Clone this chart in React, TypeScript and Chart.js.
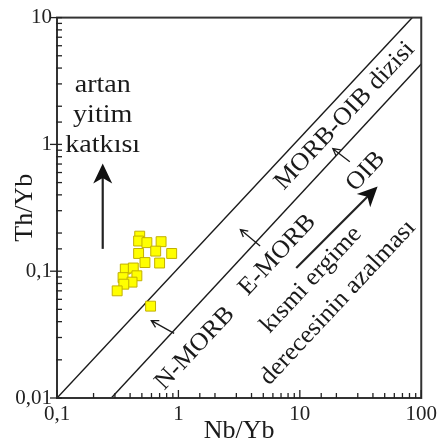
import React, { useEffect, useRef } from "react";
import { Chart, registerables } from "chart.js";
Chart.register(...registerables);

// Sample points (Nb/Yb, Th/Yb)
const nbYb = [0.48, 0.47, 0.55, 0.72, 0.65, 0.47, 0.88, 0.53, 0.7, 0.365, 0.425, 0.455, 0.35, 0.415, 0.355, 0.313, 0.59];
const thYb = [0.189, 0.173, 0.168, 0.171, 0.144, 0.138, 0.138, 0.117, 0.116, 0.104, 0.106, 0.092, 0.089, 0.082, 0.079, 0.07, 0.053];

// MORB-OIB array boundaries
const upperX = [0.1, 84.5];
const upperY = [0.01, 10];
const lowerX = [0.28, 100];
const lowerY = [0.01, 4.3];

// Tick labels
const xTickValues = [0.1, 1, 10, 100];
const xTickLabels = ["0,1", "1", "10", "100"];
const yTickValues = [0.01, 0.1, 1, 10];
const yTickLabels = ["0,01", "0,1", "1", "10"];

// Annotations in data coordinates
const smallArrows = [
  { from: [0.922, 0.0323], to: [0.598, 0.0408] },
  { from: [4.71, 0.158], to: [3.24, 0.213] },
  { from: [25.8, 0.731], to: [18.7, 0.925] },
];
const bigArrows = [
  { from: [0.238, 0.15], to: [0.238, 0.706] },
  { from: [9.34, 0.106], to: [43.7, 0.466] },
];
const flatTexts = [
  { text: "artan", at: [0.238, 2.585] },
  { text: "yitim", at: [0.238, 1.505] },
  { text: "katkısı", at: [0.238, 0.876] },
];
const slantTexts = [
  { text: "MORB-OIB dizisi", at: [23.48, 1.677] },
  { text: "OIB", at: [34.85, 0.611] },
  { text: "E-MORB", at: [6.53, 0.1343] },
  { text: "N-MORB", at: [1.369, 0.02464] },
  { text: "kısmi ergime", at: [12.38, 0.0855] },
  { text: "derecesinin azalması", at: [20.58, 0.0565] },
];

const FONT = '"Liberation Serif", "Times New Roman", serif';

function isPow10(v: number) {
  const l = Math.log10(v);
  return Math.abs(l - Math.round(l)) < 1e-6;
}
function labelFor(vals: number[], labels: string[], v: number) {
  const i = vals.findIndex((x) => Math.abs(Math.log10(x) - Math.log10(v)) < 1e-6);
  return i >= 0 ? labels[i] : "";
}

function drawText(ctx: CanvasRenderingContext2D, text: string, x: number, y: number, angle: number, size: number, baseline: CanvasTextBaseline, sx: number) {
  ctx.save();
  ctx.translate(x, y);
  ctx.rotate(angle);
  ctx.scale(sx, 1);
  ctx.font = `${size}px ${FONT}`;
  ctx.fillStyle = "#1a1a1a";
  ctx.textAlign = "center";
  ctx.textBaseline = baseline;
  ctx.fillText(text, 0, 0);
  ctx.restore();
}

function drawBigHead(ctx: CanvasRenderingContext2D, x1: number, y1: number, x2: number, y2: number, L: number, W: number) {
  const a = Math.atan2(y2 - y1, x2 - x1);
  const dx = Math.cos(a), dy = Math.sin(a);
  const px = -dy, py = dx;
  ctx.beginPath();
  ctx.moveTo(x2, y2);
  ctx.lineTo(x2 - L * dx + (W / 2) * px, y2 - L * dy + (W / 2) * py);
  ctx.lineTo(x2 - 0.72 * L * dx, y2 - 0.72 * L * dy);
  ctx.lineTo(x2 - L * dx - (W / 2) * px, y2 - L * dy - (W / 2) * py);
  ctx.closePath();
  ctx.fill();
}

const overlay = {
  id: "overlay",
  afterDraw(chart: any) {
    const ctx: CanvasRenderingContext2D = chart.ctx;
    const xs = chart.scales.x;
    const ys = chart.scales.y;
    const { left, right, top, bottom } = chart.chartArea;
    ctx.save();
    // frame
    ctx.strokeStyle = "#333";
    ctx.lineWidth = 2;
    ctx.strokeRect(left, top, right - left, bottom - top);
    // ticks
    ctx.lineWidth = 1.3;
    ctx.strokeStyle = "#222";
    xs.ticks.forEach((t: any) => {
      const p = xs.getPixelForValue(t.value);
      const major = isPow10(t.value);
      ctx.beginPath();
      ctx.moveTo(p, bottom);
      ctx.lineTo(p, bottom - (major ? 8 : 5));
      ctx.stroke();
    });
    ys.ticks.forEach((t: any) => {
      const p = ys.getPixelForValue(t.value);
      const major = isPow10(t.value);
      ctx.beginPath();
      ctx.moveTo(major ? left - 7 : left - 1, p);
      ctx.lineTo(left + 5, p);
      ctx.stroke();
    });
    // small arrows
    ctx.strokeStyle = "#1a1a1a";
    ctx.lineWidth = 1.3;
    smallArrows.forEach((a) => {
      const x1 = xs.getPixelForValue(a.from[0]), y1 = ys.getPixelForValue(a.from[1]);
      const x2 = xs.getPixelForValue(a.to[0]), y2 = ys.getPixelForValue(a.to[1]);
      const ang = Math.atan2(y2 - y1, x2 - x1);
      ctx.beginPath();
      ctx.moveTo(x1, y1);
      ctx.lineTo(x2, y2);
      const h = 8;
      ctx.moveTo(x2 - h * Math.cos(ang - 0.5), y2 - h * Math.sin(ang - 0.5));
      ctx.lineTo(x2, y2);
      ctx.lineTo(x2 - h * Math.cos(ang + 0.5), y2 - h * Math.sin(ang + 0.5));
      ctx.stroke();
    });
    // big arrows
    ctx.fillStyle = "#111";
    ctx.strokeStyle = "#222";
    ctx.lineWidth = 2.2;
    bigArrows.forEach((a) => {
      const x1 = xs.getPixelForValue(a.from[0]), y1 = ys.getPixelForValue(a.from[1]);
      const x2 = xs.getPixelForValue(a.to[0]), y2 = ys.getPixelForValue(a.to[1]);
      const ang = Math.atan2(y2 - y1, x2 - x1);
      ctx.beginPath();
      ctx.moveTo(x1, y1);
      ctx.lineTo(x2 - 12 * Math.cos(ang), y2 - 12 * Math.sin(ang));
      ctx.stroke();
      drawBigHead(ctx, x1, y1, x2, y2, 20, 19);
    });
    // texts
    const ax1 = xs.getPixelForValue(upperX[0]), ay1 = ys.getPixelForValue(upperY[0]);
    const ax2 = xs.getPixelForValue(upperX[1]), ay2 = ys.getPixelForValue(upperY[1]);
    const slope = Math.atan2(ay2 - ay1, ax2 - ax1);
    flatTexts.forEach((t) => {
      drawText(ctx, t.text, xs.getPixelForValue(t.at[0]), ys.getPixelForValue(t.at[1]), 0, 26, "alphabetic", 1.08);
    });
    slantTexts.forEach((t) => {
      drawText(ctx, t.text, xs.getPixelForValue(t.at[0]), ys.getPixelForValue(t.at[1]), slope, 25, "middle", 1.04);
    });
    ctx.restore();
  },
};

export default function App() {
  const ref = useRef<HTMLCanvasElement>(null);
  useEffect(() => {
    document.body.style.margin = "0";
    const canvas = ref.current!;
    const chart = new Chart(canvas, {
      type: "scatter",
      data: {
        datasets: [
          {
            label: "Örnekler",
            data: nbYb.map((x, i) => ({ x, y: thYb[i] })),
            pointStyle: "rect",
            pointRadius: 7,
            backgroundColor: "#ffff00",
            borderColor: "#c2b000",
            borderWidth: 1,
          },
          {
            label: "upper",
            data: upperX.map((x, i) => ({ x, y: upperY[i] })),
            showLine: true,
            pointRadius: 0,
            borderColor: "#1a1a1a",
            borderWidth: 1.4,
          },
          {
            label: "lower",
            data: lowerX.map((x, i) => ({ x, y: lowerY[i] })),
            showLine: true,
            pointRadius: 0,
            borderColor: "#1a1a1a",
            borderWidth: 1.4,
          },
        ],
      } as any,
      options: {
        responsive: false,
        animation: false,
        devicePixelRatio: 1,
        layout: { padding: { top: 15, right: 17, left: 0, bottom: 0 } },
        plugins: { legend: { display: false }, tooltip: { enabled: false } },
        scales: {
          x: {
            type: "logarithmic",
            min: 0.1,
            max: 100,
            grid: { display: false, drawTicks: false },
            border: { display: false },
            ticks: {
              autoSkip: false,
              maxRotation: 0,
              minRotation: 0,
              padding: 4,
              color: "#222",
              font: { family: FONT, size: 21 },
              callback: (v: any) => labelFor(xTickValues, xTickLabels, Number(v)),
            },
            title: { display: true, text: "Nb/Yb", color: "#1a1a1a", font: { family: FONT, size: 26 }, padding: { top: 0, bottom: 1 } },
            afterFit: (s: any) => {
              s.height = 50;
            },
          },
          y: {
            type: "logarithmic",
            min: 0.01,
            max: 10,
            grid: { display: false, drawTicks: false },
            border: { display: false },
            ticks: {
              autoSkip: false,
              padding: 5,
              color: "#222",
              font: { family: FONT, size: 21 },
              callback: (v: any) => labelFor(yTickValues, yTickLabels, Number(v)),
            },
            title: { display: true, text: "Th/Yb", color: "#1a1a1a", font: { family: FONT, size: 26 }, padding: { top: 10, bottom: 0 } },
            afterFit: (s: any) => {
              s.width = 57;
            },
          },
        },
      } as any,
      plugins: [overlay],
    });
    return () => chart.destroy();
  }, []);
  return (
    <div style={{ width: 441, height: 448, background: "#fff" }}>
      <canvas ref={ref} width={441} height={448} style={{ display: "block" }} />
    </div>
  );
}
